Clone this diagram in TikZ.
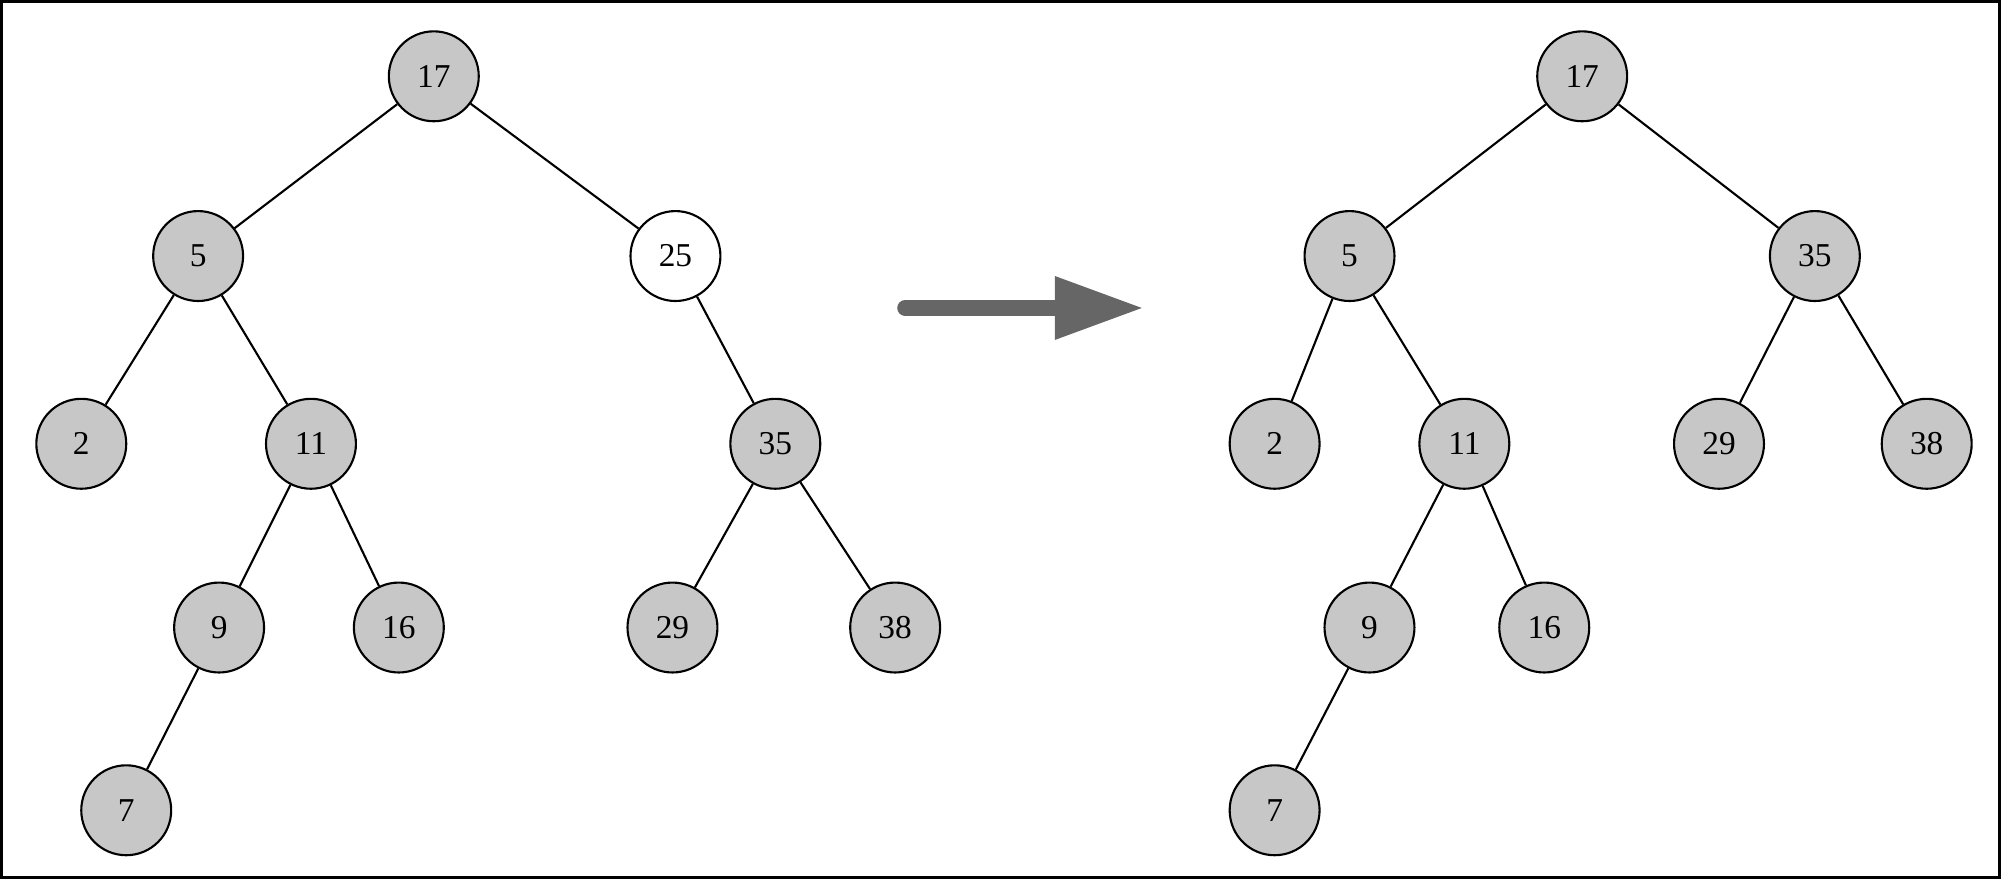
\documentclass[tikz,border=0pt]{standalone}
\usepackage{fontspec}
\setmainfont{Liberation Serif}
\begin{document}
\begin{tikzpicture}[x=0.01cm,y=-0.01cm,line width=0.6pt]

      \draw[line width=0.8pt] (0,0) rectangle (2001,877);

      \begin{scope}[every node/.style={circle,draw,fill=black!22,minimum size=0.9cm,inner sep=0pt,font=\fontsize{9.5}{11}\selectfont}]
        \node (l17) at (433,75)  {17};
        \node (l5)  at (197,255) {5};
        \node[fill=white] (l25) at (675,255) {25};
        \node (l2)  at (80,443)  {2};
        \node (l11) at (310,443) {11};
        \node (l35) at (775,443) {35};
        \node (l9)  at (218,627) {9};
        \node (l16) at (398,627) {16};
        \node (l29) at (672,627) {29};
        \node (l38) at (895,627) {38};
        \node (l7)  at (125,810) {7};

        \node (r17) at (1583,75)  {17};
        \node (r5)  at (1350,255) {5};
        \node (r35) at (1816,255) {35};
        \node (r2)  at (1275,443) {2};
        \node (r11) at (1465,443) {11};
        \node (r29) at (1720,443) {29};
        \node (r38) at (1928,443) {38};
        \node (r9)  at (1370,627) {9};
        \node (r16) at (1545,627) {16};
        \node (r7)  at (1275,810) {7};
      \end{scope}

      \path (l17) edge (l5) (l17) edge (l25);
      \path (l5)  edge (l2) (l5)  edge (l11);
      \path (l11) edge (l9) (l11) edge (l16);
      \path (l9)  edge (l7);
      \path (l25) edge (l35);
      \path (l35) edge (l29) (l35) edge (l38);

      \path (r17) edge (r5) (r17) edge (r35);
      \path (r5)  edge (r2) (r5)  edge (r11);
      \path (r11) edge (r9) (r11) edge (r16);
      \path (r9)  edge (r7);
      \path (r35) edge (r29) (r35) edge (r38);

      \coordinate (from) at (905,307);
      \coordinate (to)   at (1142,307);
      \draw[black!60,line width=4.5pt,line cap=round] (from) -- (1055,307);
      \fill[black!60] (1055,275) -- (to) -- (1055,339) -- cycle;

    \end{tikzpicture}
\end{document}
